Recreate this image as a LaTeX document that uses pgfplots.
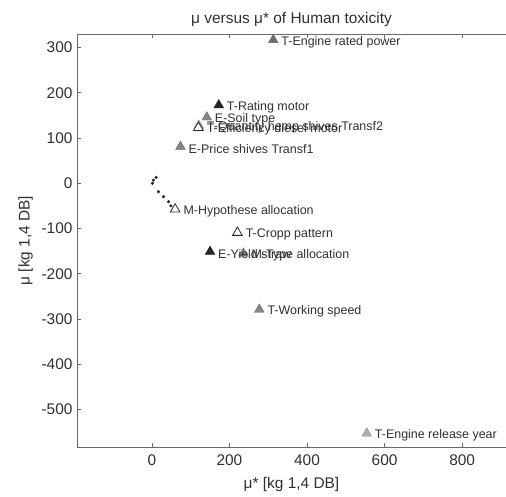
\documentclass[border=0pt]{standalone}
\usepackage{fontspec}
\setmainfont{Liberation Sans}
\usepackage{pgfplots}
\pgfplotsset{compat=1.18}

\definecolor{axgray}{HTML}{6A6A6A}
\definecolor{txt}{HTML}{303030}
\definecolor{mblack}{HTML}{262626}
\definecolor{mdark}{HTML}{6C6C6C}
\definecolor{mmid}{HTML}{858585}
\definecolor{mlight}{HTML}{B0B0B0}

\newcommand{\bigf}{\fontsize{15.5}{18}\selectfont}
\newcommand{\smallf}{\fontsize{12.5}{14}\selectfont}

\pgfplotsset{
  lbl/.style={
    only marks, mark=triangle*, mark size=5.6,
    nodes near coords, point meta=explicit symbolic,
    every node near coord/.style={anchor=west, xshift=7bp, yshift=-2bp,
      font=\smallf, text=txt, inner sep=1bp}
  }
}

\begin{document}
\begin{tikzpicture}
\begin{axis}[
  name=ax,
  scale only axis,
  width=429bp, height=413bp,
  xmin=-193, xmax=913, ymin=-583, ymax=330,
  axis line style={draw=none},
  xtick={0,200,400,600,800},
  ytick={-500,-400,-300,-200,-100,0,100,200,300},
  xtick pos=both, ytick pos=left,
  tick align=inside,
  major tick length=4bp,
  every tick/.style={axgray, line width=0.7bp},
  /pgf/number format/assume math mode=true,
  ticklabel style={font=\bigf, text=txt},
  xticklabel style={yshift=-4bp},
  yticklabel style={xshift=-1bp},
  title={μ versus μ* of Human toxicity},
  title style={font=\bigf, text=txt, yshift=-2bp},
  xlabel={μ* [kg 1,4 DB]},
  ylabel={μ [kg 1,4 DB]},
  label style={font=\bigf, text=txt},
  xlabel style={yshift=-5bp},
  ylabel style={yshift=2bp},
  clip=false,
]
\draw[axgray, line width=0.8bp] (rel axis cs:1,1) -- (rel axis cs:0,1) -- (rel axis cs:0,0) -- (rel axis cs:1,0);

% small dots near the origin
\addplot[only marks, mark=*, mark size=1.4, mblack] coordinates {
  (1.5,0) (4,7) (11,13) (17,-18.6) (30,-29.6) (43,-40.7) (49,-50)
};

% light grey
\addplot[lbl, mark options={fill=mlight, draw=mmid}] table[meta=label] {
x y label
121 128 {T-Quantity hemp shives Transf2}
554 -553 {T-Engine release year}
};

% open triangles
\addplot[lbl, mark options={fill=white, draw=mblack, line width=0.8bp}] table[meta=label] {
x y label
120 123 {T-Efficiency diesel motor}
60 -57.5 {M-Hypothese allocation}
220.5 -109 {T-Cropp pattern}
};

% medium grey
\addplot[lbl, mark options={fill=mmid, draw=mdark}] table[meta=label] {
x y label
73.7 81 {E-Price shives Transf1}
141.6 146 {E-Soil type}
277 -279 {T-Working speed}
236 -155 {M-Type allocation}
};

% dark grey
\addplot[lbl, mark options={fill=mdark, draw=mdark}] table[meta=label] {
x y label
313 317 {T-Engine rated power}
};

% black
\addplot[lbl, mark options={fill=mblack, draw=mblack}] table[meta=label] {
x y label
172.5 173 {T-Rating motor}
150 -151 {E-Yield straw}
};
\end{axis}
\pgfresetboundingbox
\path ([xshift=-77bp,yshift=-50bp]ax.south west) rectangle ([yshift=34bp]ax.north east);
\end{tikzpicture}
\end{document}
